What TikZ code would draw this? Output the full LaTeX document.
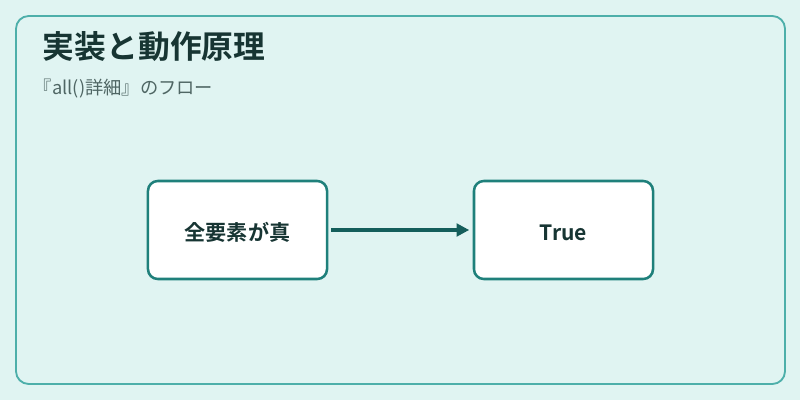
\documentclass[tikz,border=0pt]{standalone}
\usepackage{xcolor}
\usepackage{fontspec}
\usepackage{tikz}
\usetikzlibrary{arrows.meta}
\newfontfamily\jpfont{Noto Sans CJK JP}[BoldFont={Noto Sans CJK JP Bold}]
\definecolor{bgteal}{HTML}{E0F4F2}
\definecolor{frameteal}{HTML}{4DAFAA}
\definecolor{boxteal}{HTML}{1F807B}
\definecolor{arrowteal}{HTML}{145E5B}
\definecolor{titlecol}{HTML}{173533}
\definecolor{subcol}{HTML}{4F6664}

\begin{document}
\begin{tikzpicture}[x=0.025cm, y=-0.025cm, every node/.style={font=\jpfont},
    flowbox/.style={draw=boxteal, fill=white, line width=1.8pt, rounded corners=7pt,
        minimum width=4.475cm, minimum height=2.45cm, text height=15pt, text depth=0pt,
        font=\jpfont\bfseries\fontsize{15}{18}\selectfont, text=titlecol}]
        \fill[bgteal] (0,0) rectangle (800,400);
        \useasboundingbox (0,0) rectangle (800,400);
        \draw[frameteal, line width=1.3pt, rounded corners=9pt] (16,16) rectangle (785,384);
        \node[anchor=west, font=\jpfont\bfseries\fontsize{22.6}{27}\selectfont, text=titlecol] (title) at (38,47) {実装と動作原理};
        \node[anchor=west, font=\jpfont\fontsize{13}{15}\selectfont, text=subcol] (sub) at (29,89) {『all()詳細』のフロー};
        \node[flowbox] (allTrue) at (237.5,230) {全要素が真};
        \node[flowbox] (resTrue) at (563.5,230) {True};
        \draw[-{Triangle[length=9pt, width=9pt]}, arrowteal, line width=2.2pt, shorten <=2pt, shorten >=2.5pt] (allTrue) -- (resTrue);
    \end{tikzpicture}
\end{document}
